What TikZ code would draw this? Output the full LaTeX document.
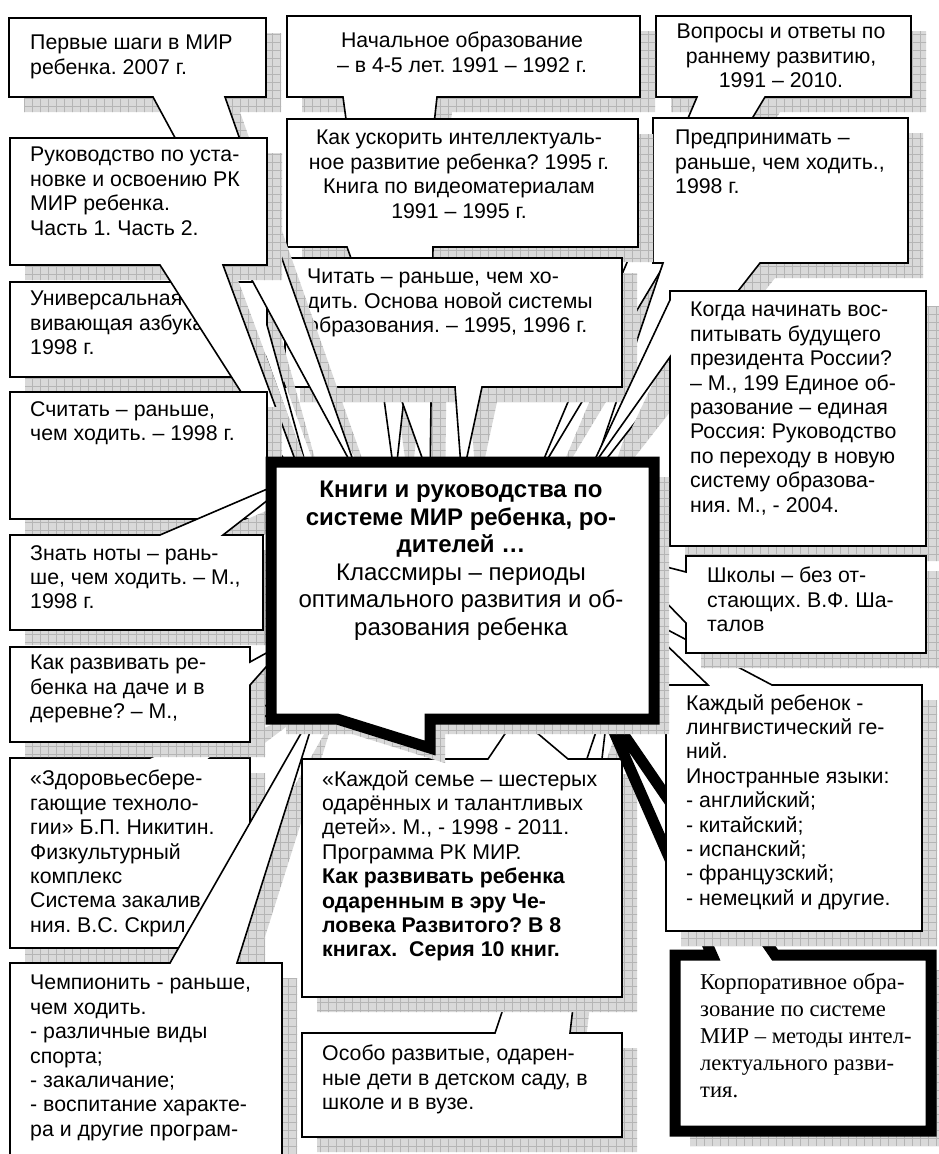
\documentclass[tikz,border=0pt]{standalone}
\usepackage{fontspec}
\setmainfont{Liberation Sans}
\newfontfamily\timesfont{Liberation Serif}
\frenchspacing
\usetikzlibrary{patterns.meta}
\tikzset{
  shadowfill/.style={fill=gray!30, shift={(15,15)}},
  shadowgrid/.style={pattern={Hatch[angle=0,distance=8pt,line width=0.5pt]}, pattern color=gray!58, shift={(15,15)}},
  callbox/.style={draw=black, line width=1.6pt, fill=white},
  thickbox/.style={draw=black, line width=11pt, fill=white},
  txt/.style={anchor=north west, inner sep=0pt, align=left,
    font=\fontsize{21.3}{24.4}\selectfont, execute at begin node=\rule{0pt}{20pt}},
  ctxt/.style={txt, anchor=north, align=center},
}
\newcommand{\callout}[2][callbox]{%
  \fill[shadowfill] #2;
  \fill[shadowgrid] #2;
  \path[#1] #2;}

\begin{document}
\begin{tikzpicture}[x=1pt,y=1pt,yscale=-1,xscale=1]
\useasboundingbox (0,0) rectangle (938,1154);
% top row, right side
\callout{(656,16) -- (911,16) -- (911,97) -- (765,97) -- (535,480) -- (697,97) -- (656,97) -- cycle}
\node[ctxt] (vopr) at (781,24) {Вопросы и ответы по\\раннему развитию,\\1991 – 2010.};
\callout{(653,118) -- (908,118) -- (908,263) -- (760,263) -- (590,480) -- (663,263) -- (653,263) -- cycle}
\node[txt] (predpr) at (675,130) {Предпринимать –\\раньше, чем ходить.,\\1998 г.};
% middle column
\callout{(287,16) -- (640,16) -- (640,97) -- (437,97) -- (395,480) -- (343,97) -- (287,97) -- cycle}
\node[ctxt] (nach) at (462,32) {Начальное образование\\– в 4-5 лет. 1991 – 1992 г.};
\callout{(287,119) -- (638,119) -- (638,247) -- (433,247) -- (430,480) -- (347,247) -- (287,247) -- cycle}
\node[ctxt] (uskor) at (459,130) {Как ускорить интеллектуаль-\\ное развитие ребенка? 1995 г.\\Книга по видеоматериалам\\1991 – 1995 г.};
\callout{(285,258) -- (622,258) -- (622,387) -- (482,387) -- (462,480) -- (455,387) -- (285,387) -- cycle}
\node[txt] (chitat) at (307,269) {Читать – раньше, чем хо-\\дить. Основа новой системы\\образования. – 1995, 1996 г.};
\callout{(670,291) -- (926,291) -- (926,546) -- (670,546) -- (670,357) -- (590,470) -- (670,300) -- cycle}
\node[txt] (kogda) at (690,302) {Когда начинать вос-\\питывать будущего\\президента России?\\– М., 199 Единое об-\\разование – единая\\Россия: Руководство\\по переходу в новую\\систему образова-\\ния. М., - 2004.};
% left column
\callout{(10,282) -- (267,282) -- (267,325) -- (310,480) -- (267,360) -- (267,377) -- (10,377) -- cycle}
\node[txt] (azbuka) at (30,291) {Универсальная\\вивающая азбука\\1998 г.};
\callout{(9,18) -- (266,18) -- (266,97) -- (225,97) -- (360,480) -- (153,97) -- (9,97) -- cycle}
\node[txt] (perv) at (30,35) {Первые шаги в МИР\\ребенка. 2007 г.};
\callout{(10,138) -- (267,138) -- (267,265) -- (223,265) -- (310,500) -- (160,265) -- (10,265) -- cycle}
\node[txt] (rukov) at (30,147) {Руководство по уста-\\новке и освоению РК\\МИР ребенка.\\Часть 1. Часть 2.};
\callout{(10,392) -- (267,392) -- (267,519) -- (10,519) -- cycle}
\node[txt] (schit) at (30,401) {Считать – раньше,\\чем ходить. – 1998 г.};
\callout{(10,535) -- (160,535) -- (300,475) -- (223,535) -- (263,535) -- (263,630) -- (10,630) -- cycle}
\node[txt] (noty) at (30,545) {Знать ноты – рань-\\ше, чем ходить. – М.,\\1998 г.};
\callout{(10,758) -- (150,758) -- (300,690) -- (210,758) -- (250,758) -- (250,948) -- (10,948) -- cycle}
\node[txt] (zdorov) at (30,770) {«Здоровьесбере-\\гающие техноло-\\гии» Б.П. Никитин.\\Физкультурный\\комплекс\\Система закалив\\ния. В.С. Скрил};
\callout{(10,647) -- (250,647) -- (250,662) -- (290,640) -- (250,685) -- (250,742) -- (10,742) -- cycle}
\node[txt] (dacha) at (30,655) {Как развивать ре-\\бенка на даче и в\\деревне? – М.,};
\callout{(10,963) -- (170,963) -- (320,700) -- (237,963) -- (282,963) -- (282,1170) -- (10,1170) -- cycle}
\node[txt] (chemp) at (30,975) {Чемпионить - раньше,\\чем ходить.\\- различные виды\\спорта;\\- закаличание;\\- воспитание характе-\\ра и другие програм-};
% bottom middle
\callout{(302,1033) -- (495,1033) -- (610,690) -- (570,1033) -- (622,1033) -- (622,1137) -- (302,1137) -- cycle}
\node[txt] (osobo) at (322,1045) {Особо развитые, одарен-\\ные дети в детском саду, в\\школе и в вузе.};
\callout{(302,759) -- (488,759) -- (517,716) -- (568,759) -- (622,759) -- (622,997) -- (302,997) -- cycle}
\node[txt] (semya) at (322,770) {«Каждой семье – шестерых\\одарённых и талантливых\\детей». М., - 1998 - 2011.\\Программа РК МИР.\\\textbf{Как развивать ребенка}\\\textbf{одаренным в эру Че-}\\\textbf{ловека Развитого? В 8}\\\textbf{книгах.\ \ Серия 10 книг.}};
% right column, lower part
\callout[thickbox]{(675,955) -- (712,955) -- (600,700) -- (775,955) -- (931,955) -- (931,1131) -- (675,1131) -- cycle}
\node[txt, font=\timesfont\fontsize{22.6}{27}\selectfont] (korp) at (700,973) {Корпоративное обра-\\зование по системе\\МИР – методы интел-\\лектуального разви-\\тия.};
\callout{(666,685) -- (708,685) -- (630,610) -- (772,685) -- (922,685) -- (922,931) -- (666,931) -- cycle}
\node[txt] (lingv) at (686,694) {Каждый ребенок -\\лингвистический ге-\\ний.\\Иностранные языки:\\- английский;\\- китайский;\\- испанский;\\- французский;\\- немецкий и другие.};
\callout{(686,556) -- (926,556) -- (926,653) -- (686,653) -- (686,623) -- (620,555) -- (686,572) -- cycle}
\node[txt] (shkoly) at (707,567) {Школы – без от-\\стающих. В.Ф. Ша-\\талов};
% central box
\callout[thickbox]{(271,462) -- (654,462) -- (654,719) -- (430,719) -- (430,748) -- (337,719) -- (271,719) -- cycle}
\node[ctxt, font=\fontsize{24}{27.5}\selectfont, execute at begin node=\rule{0pt}{22pt}] (knigi) at (461,481) {\textbf{Книги и руководства по}\\\textbf{системе МИР ребенка, ро-}\\\textbf{дителей …}\\Классмиры – периоды\\оптимального развития и об-\\разования ребенка};
\end{tikzpicture}
\end{document}
